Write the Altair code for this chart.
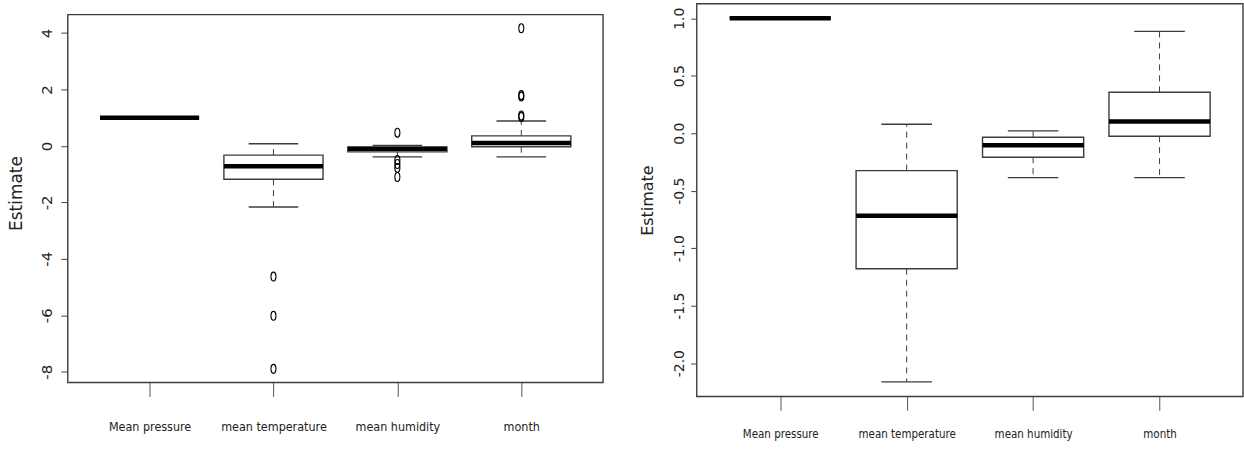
import altair as alt
import pandas as pd

# Coefficient estimates per predictor (box summaries)
categories = ["Mean pressure", "mean temperature", "mean humidity", "month"]
lower_whisker = [1.0, -2.163, -0.386, -0.386]
q1 = [1.0, -1.179, -0.209, -0.026]
median = [1.0, -0.718, -0.104, 0.101]
q3 = [1.0, -0.325, -0.035, 0.356]
upper_whisker = [1.0, 0.078, 0.020, 0.886]

# Points beyond the whiskers
outlier_group = ["mean temperature"] * 3 + ["mean humidity"] * 5 + ["month"] * 5
outlier_value = [-4.63, -6.02, -7.90,
                 0.47, -0.50, -0.64, -0.78, -1.10,
                 1.03, 1.08, 1.75, 1.80, 4.17]

y_ticks_left = [-8, -6, -4, -2, 0, 2, 4]
y_ticks_right = [-2.0, -1.5, -1.0, -0.5, 0.0, 0.5, 1.0]

boxes = pd.DataFrame({
    "cat": categories,
    "pos": list(range(1, len(categories) + 1)),
    "lo": lower_whisker, "q1": q1, "med": median, "q3": q3, "hi": upper_whisker,
})
outliers = pd.DataFrame({
    "cat": outlier_group,
    "pos": [categories.index(c) + 1 for c in outlier_group],
    "value": outlier_value,
})

INK = "#222222"
LINE = "#3c3c3c"
MINUS = "\u2212"
X_FONT = "Liberation Sans Narrow, DejaVu Sans Condensed, Liberation Sans, sans-serif"
label_lookup = "[" + ",".join("'" + c + "'" for c in categories) + "][datum.value - 1]"
ellipse = "M0,-1A0.56,1,0,1,1,0,1A0.56,1,0,1,1,0,-1Z"


def padded(lo, hi, frac=0.04):
    span = hi - lo
    return [lo - frac * span, hi + frac * span]


def panel(width, box_height, top_gap, y_limits, y_ticks, y_fmt, lab_size, tick_len, lab_pad,
          title_size, title_pad, x_lab_size, x_lab_pad, with_outliers):
    """One boxplot panel; the frame is drawn around the padded data limits and
    `top_gap` pixels of empty space are left above it."""
    n = len(categories)
    x_limits = padded(0.5, n + 0.5)
    per_px = (y_limits[1] - y_limits[0]) / box_height
    y_domain = [y_limits[0], y_limits[1] + top_gap * per_px]
    xs = alt.Scale(domain=x_limits, nice=False, zero=False)
    ys = alt.Scale(domain=y_domain, nice=False, zero=False)
    x_axis = alt.Axis(values=list(range(1, n + 1)), labelExpr=label_lookup, title=None,
                      grid=False, domain=False, tickSize=14, tickColor="#555555",
                      tickWidth=1, labelFont=X_FONT, labelFontSize=x_lab_size,
                      labelColor=INK, labelPadding=x_lab_pad)
    y_axis = alt.Axis(values=y_ticks, title="Estimate", grid=False, domain=False,
                      labelExpr="replace(format(datum.value, '" + y_fmt + "'), '" + MINUS + "', '-')",
                      labelAngle=270, labelAlign="center", labelBaseline="alphabetic",
                      labelFont="DejaVu Sans", labelFontSize=lab_size, labelColor=INK,
                      labelPadding=lab_pad, tickSize=tick_len, tickColor="#444444", tickWidth=1,
                      titleFont="DejaVu Sans", titleFontSize=title_size, titleFontWeight="normal",
                      titleColor=INK, titlePadding=title_pad)

    frame_df = pd.DataFrame({"x0": [x_limits[0]], "x1": [x_limits[1]],
                             "y0": [y_limits[0]], "y1": [y_limits[1]]})
    frame = alt.Chart(frame_df).mark_rect(fill="white", stroke=LINE, strokeWidth=1.4).encode(
        x=alt.X("x0:Q", scale=xs, axis=x_axis), x2="x1:Q",
        y=alt.Y("y0:Q", scale=ys, axis=y_axis), y2="y1:Q")

    base = alt.Chart(boxes).transform_calculate(
        left="datum.pos - 0.4", right="datum.pos + 0.4",
        cap_l="datum.pos - 0.2", cap_r="datum.pos + 0.2",
    )
    whisk_up = base.mark_rule(color=LINE, strokeWidth=1, strokeDash=[6, 5]).encode(
        x="pos:Q", y="q3:Q", y2="hi:Q")
    whisk_dn = base.mark_rule(color=LINE, strokeWidth=1, strokeDash=[6, 5]).encode(
        x="pos:Q", y="q1:Q", y2="lo:Q")
    cap_up = base.mark_rule(color=LINE, strokeWidth=1.4).encode(
        x="cap_l:Q", x2="cap_r:Q", y="hi:Q")
    cap_dn = base.mark_rule(color=LINE, strokeWidth=1.4).encode(
        x="cap_l:Q", x2="cap_r:Q", y="lo:Q")
    box = base.mark_rect(fill="white", stroke=LINE, strokeWidth=1.4).encode(
        x="left:Q", x2="right:Q", y="q1:Q", y2="q3:Q")
    med = base.mark_rule(color="black", strokeWidth=4.5).encode(
        x="left:Q", x2="right:Q", y="med:Q")
    layers = [frame, whisk_up, whisk_dn, cap_up, cap_dn, box, med]
    if with_outliers:
        pts = alt.Chart(outliers).mark_point(
            shape=ellipse, size=81, filled=False, color="black", strokeWidth=1.1, opacity=1
        ).encode(x="pos:Q", y="value:Q")
        layers.append(pts)
    return alt.layer(*layers).properties(
        width=width, height=box_height + top_gap,
        view=alt.ViewBackground(stroke="transparent", strokeWidth=0, fill="white"),
    )


left_limits = padded(min(min(lower_whisker), min(outlier_value)),
                     max(max(upper_whisker), max(outlier_value)))
right_limits = padded(min(lower_whisker), max(upper_whisker))

left = panel(537, 369, 11, left_limits, y_ticks_left, "d", 15, 7, 9, 17, 14, 12.5, 24, True)
right = panel(548, 394, 0, right_limits, y_ticks_right, ".1f", 14, 6, 7, 16, 17, 11.5, 18, False)

chart = alt.hconcat(left, right, spacing=35).properties(
    padding={"left": 7, "top": 2, "right": 0, "bottom": 0}
).configure_view(stroke="transparent", strokeWidth=0).configure(background="white")

chart.save("out.html", embed_options={"renderer": "svg", "actions": False})
